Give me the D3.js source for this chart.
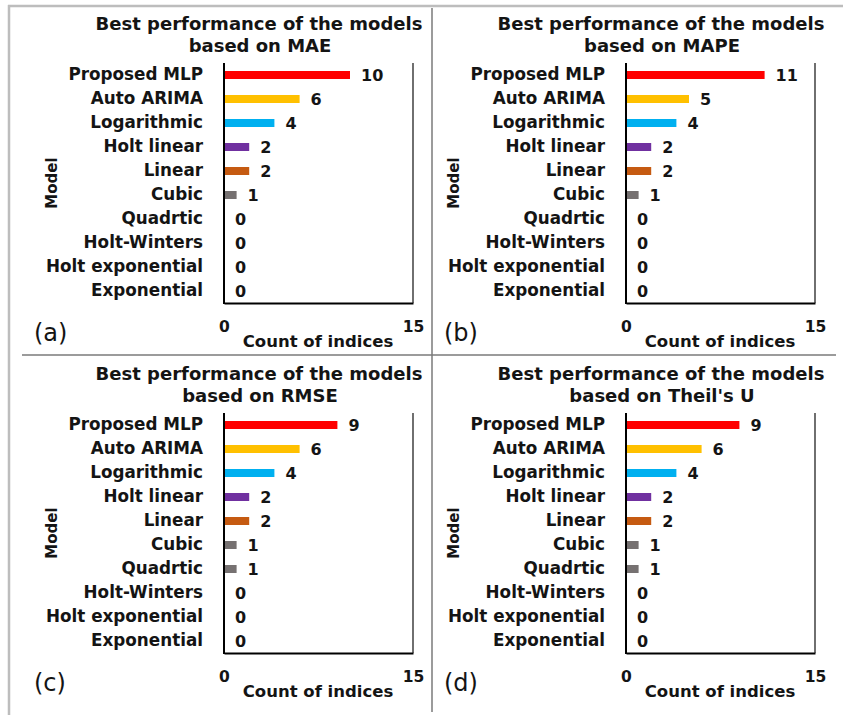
<!DOCTYPE html>
<html>
<head>
<meta charset="utf-8">
<script src="https://cdn.jsdelivr.net/npm/d3@7"></script>
<style>
  html, body { margin: 0; padding: 0; background: #fff; }
  svg { display: block; font-family: "DejaVu Sans", sans-serif; }
</style>
</head>
<body>
<svg id="fig" width="843" height="715"></svg>
<script>
// Models, listed top to bottom
const models = ["Proposed MLP", "Auto ARIMA", "Logarithmic", "Holt linear", "Linear",
                "Cubic", "Quadrtic", "Holt-Winters", "Holt exponential", "Exponential"];
const barColors = ["#FF0000", "#FFC000", "#00B0F0", "#7030A0", "#C55A11",
                   "#767171", "#767171", "#767171", "#767171", "#767171"];

// Count of indices on which each model performed best
const maeCounts   = [10, 6, 4, 2, 2, 1, 0, 0, 0, 0];
const mapeCounts  = [11, 5, 4, 2, 2, 1, 0, 0, 0, 0];
const rmseCounts  = [9, 6, 4, 2, 2, 1, 1, 0, 0, 0];
const theilCounts = [9, 6, 4, 2, 2, 1, 1, 0, 0, 0];

const xTicks = [0, 15];
const metricNames = ["MAE", "MAPE", "RMSE", "Theil's U"];
const panelTags = ["(a)", "(b)", "(c)", "(d)"];

const panels = [
  { metric: metricNames[0], tag: panelTags[0], counts: maeCounts,   dx: 0,   dy: 0,   tagX: 34 },
  { metric: metricNames[1], tag: panelTags[1], counts: mapeCounts,  dx: 402, dy: 0,   tagX: 42 },
  { metric: metricNames[2], tag: panelTags[2], counts: rmseCounts,  dx: 0,   dy: 350, tagX: 34 },
  { metric: metricNames[3], tag: panelTags[3], counts: theilCounts, dx: 402, dy: 350, tagX: 42 }
];

const svg = d3.select("#fig");

// Outer frame (top and left edges) and the dividers between panels
svg.append("line").attr("x1", 8).attr("x2", 843).attr("y1", 6).attr("y2", 6)
  .attr("stroke", "#bdbdbd").attr("stroke-width", 2.5);
svg.append("line").attr("x1", 9).attr("x2", 9).attr("y1", 5).attr("y2", 715)
  .attr("stroke", "#bdbdbd").attr("stroke-width", 2.5);
svg.append("line").attr("x1", 432).attr("x2", 432).attr("y1", 8).attr("y2", 712)
  .attr("stroke", "#7a7a7a").attr("stroke-width", 1.5);
svg.append("line").attr("x1", 22).attr("x2", 836).attr("y1", 355).attr("y2", 355)
  .attr("stroke", "#7a7a7a").attr("stroke-width", 1.5);

const plot = { left: 224, right: 413, top: 63, bottom: 303 };
const ink = "#141414";

panels.forEach(p => {
  const g = svg.append("g").attr("transform", `translate(${p.dx},${p.dy})`);

  const x = d3.scaleLinear().domain([xTicks[0], xTicks[1]]).range([plot.left, plot.right]);
  const y = d3.scaleBand().domain(models).range([plot.top, plot.bottom])
    .paddingInner(2 / 3).paddingOuter(1 / 3);

  // Title
  const title = g.append("text").attr("text-anchor", "middle")
    .attr("font-weight", "bold").attr("font-size", 18).attr("fill", ink);
  title.append("tspan").attr("x", 259).attr("y", 30).text("Best performance of the models");
  title.append("tspan").attr("x", 260).attr("y", 52).text("based on " + p.metric);

  // Bars
  g.selectAll("rect.bar").data(models).join("rect")
    .attr("class", "bar")
    .attr("x", x(0) + 1)
    .attr("y", d => y(d))
    .attr("height", y.bandwidth())
    .attr("width", (d, i) => Math.max(0, x(p.counts[i]) - x(0) - 1))
    .attr("fill", (d, i) => barColors[i]);

  // Value labels
  g.selectAll("text.val").data(models).join("text")
    .attr("class", "val")
    .attr("x", (d, i) => x(p.counts[i]) + 11)
    .attr("y", d => y(d) + y.bandwidth() / 2)
    .attr("dy", "0.38em")
    .attr("font-weight", "bold").attr("font-size", 16).attr("fill", ink)
    .text((d, i) => p.counts[i]);

  // Category axis
  const yAxis = g.append("g").attr("transform", `translate(${plot.left},0)`)
    .call(d3.axisLeft(y).tickSize(0).tickPadding(21).tickSizeOuter(0));
  yAxis.select(".domain").attr("stroke", "#000").attr("stroke-width", 2)
    .attr("d", `M0,${plot.top}V${plot.bottom + 1}`);
  yAxis.selectAll(".tick text").attr("font-family", "DejaVu Sans")
    .attr("font-weight", "bold").attr("font-size", 16.8).attr("fill", ink);

  // Count axis
  const xAxis = g.append("g").attr("transform", `translate(0,${plot.bottom})`)
    .call(d3.axisBottom(x).tickValues(xTicks).tickSize(0).tickPadding(18).tickSizeOuter(0));
  xAxis.select(".domain").attr("stroke", "#000").attr("stroke-width", 2);
  xAxis.selectAll(".tick text").attr("font-family", "DejaVu Sans")
    .attr("font-weight", "bold").attr("font-size", 15.5).attr("fill", ink);

  // Right edge of the plot area
  g.append("line").attr("x1", x(15)).attr("x2", x(15))
    .attr("y1", plot.top).attr("y2", plot.bottom)
    .attr("stroke", "#222").attr("stroke-width", 1.3);

  // Axis titles
  g.append("text").attr("x", 318).attr("y", 347).attr("text-anchor", "middle")
    .attr("font-weight", "bold").attr("font-size", 16.5).attr("fill", ink)
    .text("Count of indices");
  g.append("text").attr("transform", "translate(57,183) rotate(-90)")
    .attr("text-anchor", "middle")
    .attr("font-weight", "bold").attr("font-size", 15).attr("fill", ink)
    .text("Model");

  // Panel tag
  g.append("text").attr("x", p.tagX).attr("y", 341)
    .attr("font-size", 24).attr("fill", ink).text(p.tag);
});
</script>
</body>
</html>
